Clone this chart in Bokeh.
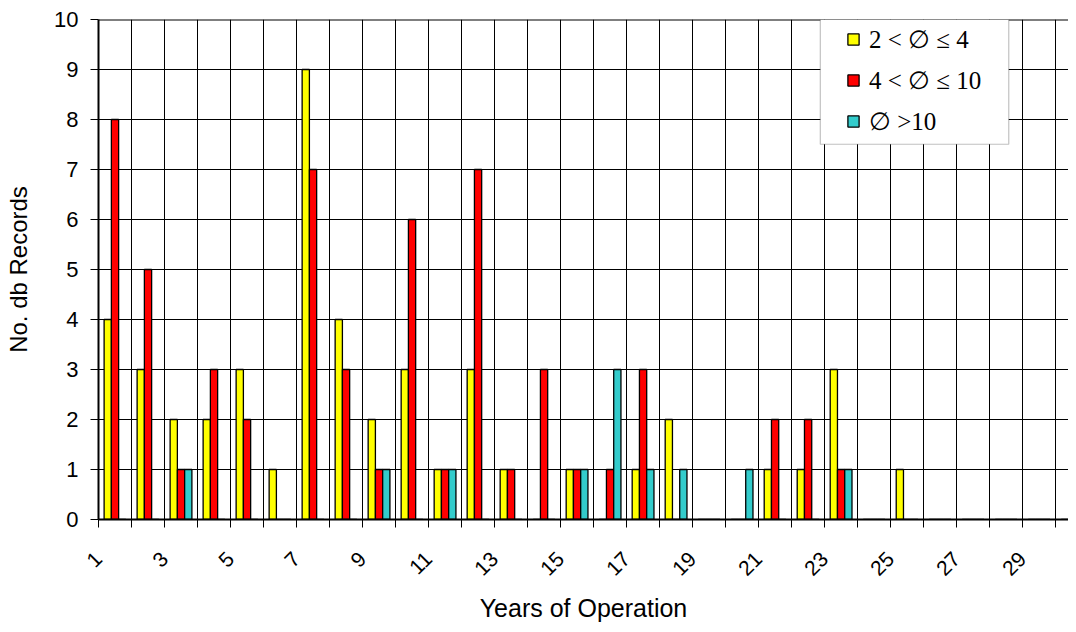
import math
from bokeh.plotting import figure
from bokeh.models import (FixedTicker, Range1d, Legend, LegendItem, BoxAnnotation, Span,
                          ColumnDataSource)
from bokeh.embed import file_html
from bokeh.resources import INLINE

# ---- data ----
years = list(range(1, 31))
small = [4, 3, 2, 2, 3, 1, 9, 4, 2, 3, 1, 3, 1, 0, 1, 0, 1, 2, 0, 0, 1, 1, 3, 0, 1, 0, 0, 0, 0, 0]
medium = [8, 5, 1, 3, 2, 0, 7, 3, 1, 6, 1, 7, 1, 3, 1, 1, 3, 0, 0, 0, 2, 2, 1, 0, 0, 0, 0, 0, 0, 0]
large = [0, 0, 1, 0, 0, 0, 0, 0, 1, 0, 1, 0, 0, 0, 1, 3, 1, 1, 0, 1, 0, 0, 1, 0, 0, 0, 0, 0, 0, 0]
series_names = ["2 < \u2205 \u2264 4", "4 < \u2205 \u2264 10", "\u2205 >10"]
series_colors = ["#FFFF00", "#FF0000", "#33CCCC"]
x_tick_labels = ["1", "3", "5", "7", "9", "11", "13", "15", "17", "19", "21", "23", "25", "27", "29"]
y_ticks = list(range(0, 11))

# category i occupies [i-1, i]; its label sits at its left boundary (i-1)
centers = [y - 0.5 for y in years]
bar_w = 0.22
offsets = [-bar_w, 0.0, bar_w]

p = figure(width=1068, height=624, output_backend="svg", toolbar_location=None,
           x_range=Range1d(0, 29.39), y_range=Range1d(0, 10),
           min_border_left=98, min_border_top=19, min_border_bottom=104, min_border_right=0)
p.outline_line_color = None
p.background_fill_color = "white"

renderers = []
for vals, off, col in zip([small, medium, large], offsets, series_colors):
    src = ColumnDataSource(dict(x=[c + off for c in centers], top=vals))
    r = p.vbar(x="x", top="top", width=bar_w, bottom=0, source=src,
               fill_color=col, line_color="black", line_width=1.3)
    renderers.append(r)

# axes
label_font = "Liberation Sans"
xa = p.xaxis[0]
xa.ticker = FixedTicker(ticks=list(range(0, 30)))
overrides = {t: "" for t in range(0, 30)}
for lab in x_tick_labels:
    overrides[int(lab) - 1] = lab
xa.major_label_overrides = overrides
xa.major_label_orientation = math.pi / 4
xa.major_tick_out = 8
xa.major_tick_in = 0
xa.major_tick_line_color = "black"
xa.minor_tick_line_color = None
xa.axis_line_width = 2
xa.axis_line_color = "black"
xa.major_label_text_font = label_font
xa.major_label_text_font_size = "21px"
xa.major_label_text_color = "black"
xa.major_label_standoff = 28
xa.axis_label = "Years of Operation"
xa.axis_label_text_font = label_font
xa.axis_label_text_font_size = "25px"
xa.axis_label_text_font_style = "normal"
xa.axis_label_text_color = "black"
xa.axis_label_standoff = 9

ya = p.yaxis[0]
ya.ticker = FixedTicker(ticks=y_ticks)
ya.major_tick_out = 8
ya.major_tick_in = 0
ya.major_tick_line_color = "black"
ya.minor_tick_line_color = None
ya.axis_line_width = 2
ya.axis_line_color = "black"
ya.major_label_text_font = label_font
ya.major_label_text_font_size = "22px"
ya.major_label_text_color = "black"
ya.major_label_standoff = 12
ya.axis_label = "No. db Records"
ya.axis_label_text_font = label_font
ya.axis_label_text_font_size = "24px"
ya.axis_label_text_font_style = "normal"
ya.axis_label_text_color = "black"
ya.axis_label_standoff = 19

p.xgrid.ticker = FixedTicker(ticks=list(range(0, 31)))
p.ygrid.ticker = FixedTicker(ticks=y_ticks)
for g in (p.xgrid[0], p.ygrid[0]):
    g.grid_line_color = "black"
    g.grid_line_width = 1

p.add_layout(Span(location=10, dimension="width", line_color="black", line_width=2))

# legend box and legend
p.add_layout(BoxAnnotation(left=21.87, right=27.58, bottom=7.505, top=10,
                           fill_color="white", fill_alpha=1.0,
                           line_color="#333333", line_width=1.2))
legend = Legend(items=[LegendItem(label=n, renderers=[r]) for n, r in zip(series_names, renderers)],
                location=(748, 382), orientation="vertical",
                border_line_color=None, background_fill_alpha=0,
                padding=0, margin=0, spacing=9, label_height=32,
                glyph_width=14, glyph_height=14, label_standoff=9,
                label_text_font="Liberation Serif", label_text_font_size="25px",
                label_text_color="black")
p.add_layout(legend)

open("out.html", "w").write(file_html(p, INLINE))
